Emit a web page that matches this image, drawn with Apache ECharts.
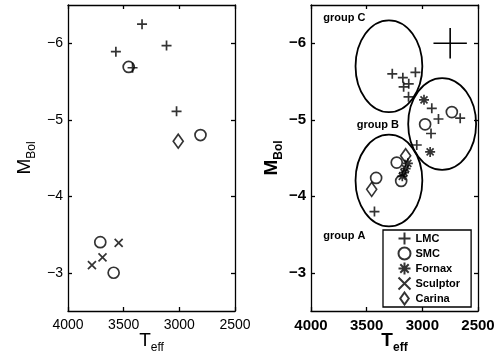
<!DOCTYPE html>
<html>
<head>
<meta charset="utf-8">
<title>Teff vs MBol</title>
<script src="https://cdn.jsdelivr.net/npm/echarts@6/dist/echarts.min.js"></script>
<style>
  html, body { margin: 0; padding: 0; background: #fff; }
  #main { width: 499px; height: 358px; }
</style>
</head>
<body>
<div id="main"></div>
<script>
// ---- data (Teff, MBol) ----
const leftLMC = [[3335, -6.25], [3570, -5.89], [3115, -5.97], [3420, -5.68], [3025, -5.11]]
const leftSMC = [[3455, -5.69], [2810, -4.80], [3710, -3.40], [3590, -3.00]]
const leftSculptor = [[3545, -3.39], [3690, -3.20], [3785, -3.10]]
const leftCarina = [[3010, -4.72]]

const rightLMC = [[3270, -5.60], [3175, -5.55], [3062, -5.62], [3168, -5.43], [3122, -5.47], [3124, -5.30],
  [3050, -4.67], [2915, -5.15], [2855, -5.01], [2922, -4.82], [2660, -5.02], [3430, -3.80]]
const rightSMC = [[2735, -5.10], [2975, -4.94], [3230, -4.44], [3415, -4.24], [3190, -4.20]]
const rightFornax = [[2985, -5.26], [2930, -4.58], [3130, -4.43], [3150, -4.36], [3165, -4.31], [3180, -4.26]]
const rightSculptor = []
const rightCarina = [[3150, -4.53], [3455, -4.09]]

// ellipses: center T, center M, radius T, radius M
const ellipses = [[3300, -5.70, 300, 0.6], [2822, -4.945, 305, 0.6], [3300, -4.205, 300, 0.6]]
// error cross: T, M, dT, dM
const errorCross = [[2750, -6.0, 150, 0.2]]
const groupLabels = [['group C', 3700, -6.33], ['group B', 3400, -4.93], ['group A', 3700, -3.48]]

const xTicks = [2500, 3000, 3500, 4000]
const yTicks = [-6, -5, -4, -3]

const PLUS = 'path://M5,0L5,10M0,5L10,5'
const CROSS = 'path://M0,0L10,10M10,0L0,10'
const STAR = 'path://M5,0L5,10M0,5L10,5M1.5,1.5L8.5,8.5M8.5,1.5L1.5,8.5'

const font = 'Liberation Sans'
const axisLineStyle = { color: '#000', width: 1.3 }
const markStyle = { color: 'none', borderColor: '#000', borderWidth: 1.7 }
const minus = v => String(v).replace('-', '\u2212')

const chart = echarts.init(document.getElementById('main'))

const makeX = (grid, bold, size) => [
  {
    gridIndex: grid, type: 'value', min: 2500, max: 4000, inverse: true, interval: 500,
    axisLine: { onZero: false, lineStyle: axisLineStyle },
    axisTick: { inside: true, length: 4, lineStyle: axisLineStyle },
    axisLabel: { customValues: xTicks, formatter: v => String(v), color: '#000', fontFamily: font, fontSize: size, fontWeight: bold ? 'bold' : 'normal', margin: 7 },
    splitLine: { show: false },
    name: '{t|T}{s|eff}', nameLocation: 'middle', nameGap: 17, nameMoveOverlap: false,
    nameTextStyle: {
      color: '#000', fontFamily: font, fontWeight: bold ? 'bold' : 'normal',
      rich: {
        t: { fontSize: 19, fontFamily: font, fontWeight: bold ? 'bold' : 'normal', color: '#000' },
        s: { fontSize: 12, fontFamily: font, fontWeight: bold ? 'bold' : 'normal', color: '#000', padding: [14, 0, 0, 0] }
      }
    }
  },
  {
    gridIndex: grid, type: 'value', min: 2500, max: 4000, inverse: true, interval: 500, position: 'top',
    axisLine: { onZero: false, lineStyle: axisLineStyle },
    axisTick: { inside: true, length: 4, lineStyle: axisLineStyle },
    axisLabel: { show: false }, splitLine: { show: false }
  }
]

const makeY = (grid, bold, size, gap) => [
  {
    gridIndex: grid, type: 'value', min: -6.5, max: -2.5, inverse: true,
    axisLine: { onZero: false, lineStyle: axisLineStyle },
    axisTick: { inside: true, length: 4, customValues: yTicks, lineStyle: axisLineStyle },
    axisLabel: { customValues: yTicks, formatter: minus, color: '#000', fontFamily: font, fontSize: size, fontWeight: bold ? 'bold' : 'normal', margin: 5 },
    splitLine: { show: false },
    name: '{m|M}{s|Bol}', nameLocation: 'middle', nameRotate: 90, nameGap: gap,
    nameTextStyle: {
      color: '#000', fontFamily: font,
      rich: {
        m: { fontSize: 19, fontFamily: font, fontWeight: bold ? 'bold' : 'normal', color: '#000' },
        s: { fontSize: 12, fontFamily: font, fontWeight: bold ? 'bold' : 'normal', color: '#000', padding: [14, 0, 0, 0] }
      }
    }
  },
  {
    gridIndex: grid, type: 'value', min: -6.5, max: -2.5, inverse: true, position: 'right',
    axisLine: { onZero: false, lineStyle: axisLineStyle },
    axisTick: { inside: true, length: 4, customValues: yTicks, lineStyle: axisLineStyle },
    axisLabel: { show: false }, splitLine: { show: false }
  }
]

const scatter = (name, data, xi, yi, symbol, size) => ({
  name, type: 'scatter', data, xAxisIndex: xi, yAxisIndex: yi,
  symbol, symbolSize: size, itemStyle: markStyle, emphasis: { disabled: true }, z: 5
})

const series = [
  scatter('LMC', leftLMC, 0, 0, PLUS, 10),
  scatter('SMC', leftSMC, 0, 0, 'circle', 11),
  scatter('Sculptor', leftSculptor, 0, 0, CROSS, 8),
  scatter('Carina', leftCarina, 0, 0, 'diamond', [10, 14]),
  scatter('LMC', rightLMC, 2, 2, PLUS, 10),
  scatter('SMC', rightSMC, 2, 2, 'circle', 11),
  scatter('Fornax', rightFornax, 2, 2, STAR, 10),
  scatter('Sculptor', rightSculptor, 2, 2, CROSS, 8),
  scatter('Carina', rightCarina, 2, 2, 'diamond', [10, 14]),
  {
    type: 'custom', xAxisIndex: 2, yAxisIndex: 2, data: ellipses, silent: true,
    renderItem: (params, api) => {
      const c = api.coord([api.value(0), api.value(1)])
      const e = api.coord([api.value(0) + api.value(2), api.value(1) + api.value(3)])
      return {
        type: 'ellipse',
        shape: { cx: c[0], cy: c[1], rx: Math.abs(e[0] - c[0]), ry: Math.abs(e[1] - c[1]) },
        style: { fill: 'none', stroke: '#000', lineWidth: 1.8 }
      }
    }
  },
  {
    type: 'custom', xAxisIndex: 2, yAxisIndex: 2, data: errorCross, silent: true,
    renderItem: (params, api) => {
      const t = api.value(0), m = api.value(1), dt = api.value(2), dm = api.value(3)
      const a = api.coord([t - dt, m]), b = api.coord([t + dt, m])
      const c = api.coord([t, m - dm]), d = api.coord([t, m + dm])
      const st = { stroke: '#000', lineWidth: 1.6 }
      return {
        type: 'group',
        children: [
          { type: 'line', shape: { x1: a[0], y1: a[1], x2: b[0], y2: b[1] }, style: st },
          { type: 'line', shape: { x1: c[0], y1: c[1], x2: d[0], y2: d[1] }, style: st }
        ]
      }
    }
  },
  {
    type: 'custom', xAxisIndex: 2, yAxisIndex: 2, data: groupLabels, silent: true,
    renderItem: (params, api) => {
      const p = api.coord([api.value(1), api.value(2)])
      return {
        type: 'text', x: p[0], y: p[1],
        style: { text: groupLabels[params.dataIndex][0], fontFamily: font, fontWeight: 'bold', fontSize: 11, fill: '#000', align: 'center', verticalAlign: 'middle' }
      }
    }
  }
]

chart.setOption({
  animation: false,
  grid: [
    { left: 68, top: 5, width: 167, height: 306, outerBoundsMode: 'none', containLabel: false },
    { left: 311, top: 5, width: 167, height: 306, outerBoundsMode: 'none', containLabel: false }
  ],
  xAxis: [...makeX(0, false, 14), ...makeX(1, true, 15)],
  yAxis: [...makeY(0, false, 14, 30), ...makeY(1, true, 15, 25)],
  legend: {
    data: [
      { name: 'LMC', icon: PLUS },
      { name: 'SMC', icon: 'circle' },
      { name: 'Fornax', icon: STAR },
      { name: 'Sculptor', icon: CROSS },
      { name: 'Carina', icon: 'path://M5,0L10,7L5,14L0,7Z' }
    ],
    orient: 'vertical', left: 383, top: 230,
    itemWidth: 12, itemHeight: 12, itemGap: -2,
    padding: [0, 11, 0, 13],
    borderColor: '#000', borderWidth: 1.3, backgroundColor: '#fff',
    selectedMode: false,
    textStyle: { fontFamily: font, fontWeight: 'bold', fontSize: 11, color: '#000' }
  },
  series
})
</script>
</body>
</html>
